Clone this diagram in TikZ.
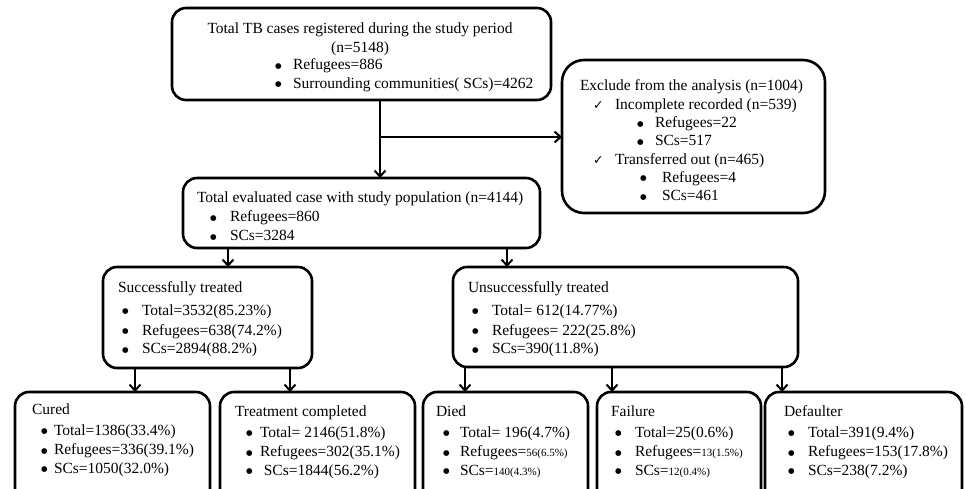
\documentclass[tikz,border=0pt]{standalone}
\usepackage{fontspec}
\setmainfont{Liberation Serif}
\newfontfamily\dejavu{DejaVu Sans}
\usetikzlibrary{arrows.meta}
\newcommand\bul[2]{\hspace*{#1}\makebox[#2][l]{\raisebox{1.5pt}{\dejavu\fontsize{7.5}{8}\selectfont ●}}}
\newcommand\chk[2]{\hspace*{#1}\makebox[#2][l]{\dejavu\fontsize{12.5}{12}\selectfont ✓}}
\newcommand\sm[1]{{\fontsize{11}{12}\selectfont #1}}
\begin{document}
\begin{tikzpicture}[x=1pt,y=-1pt,
  box/.style={draw=black,line width=2.6pt,rounded corners=14pt,inner sep=0pt,outer sep=0pt},
  txt/.style={inner sep=0pt,outer sep=0pt,align=left,anchor=north west,font=\fontsize{15.5}{18.5}\selectfont},
  arr/.style={line width=2pt,-{Straight Barb[length=6pt,width=11pt,line width=2pt]}}]
\useasboundingbox (0,0) rectangle (965,488);
% boxes
\node[box,minimum width=379pt,minimum height=92pt] (top) at (361.5,54) {};
\node[box,rounded corners=22pt,minimum width=263pt,minimum height=153pt] (excl) at (693.5,136.5) {};
\node[box,minimum width=357pt,minimum height=70pt] (eval) at (361.5,213) {};
\node[box,minimum width=209pt,minimum height=101pt] (succ) at (207.5,317.5) {};
\node[box,minimum width=345pt,minimum height=100pt] (unsucc) at (625.5,317) {};
\node[box,minimum width=195pt,minimum height=118pt] (cured) at (112.5,451) {};
\node[box,minimum width=195pt,minimum height=118pt] (tc) at (317.5,451) {};
\node[box,minimum width=165pt,minimum height=118pt] (died) at (505.5,451) {};
\node[box,minimum width=164pt,minimum height=118pt] (fail) at (679,451) {};
\node[box,minimum width=197pt,minimum height=118pt] (def) at (863.5,451) {};
% texts
\node[txt,align=center,anchor=north] (tTop) at (360,23) {Total TB cases registered during the study period\\(n=5148)};
\node[txt] (tTopB) at (275,59) {\bul{0pt}{18pt}Refugees=886\\\bul{0pt}{18pt}Surrounding communities( SCs)=4262};
\node[txt,font=\fontsize{15.5}{18.3}\selectfont] (tExcl) at (580,80) {Exclude from the analysis (n=1004)\\
\chk{13pt}{22pt}Incomplete recorded (n=539)\\
\bul{57pt}{18pt}Refugees=22\\
\bul{57pt}{18pt}SCs=517\\
\chk{13pt}{22pt}Transferred out (n=465)\\
\bul{60pt}{22pt}Refugees=4\\
\bul{60pt}{22pt}SCs=461};
\node[txt,font=\fontsize{15.5}{19}\selectfont] (tEval) at (197,192) {Total evaluated case with study population (n=4144)\\
\bul{13pt}{20pt}Refugees=860\\
\bul{13pt}{20pt}SCs=3284};
\node[txt] (tSucc) at (118,282) {Successfully treated\\[4pt]
\bul{4pt}{20pt}Total=3532(85.23\%)\\[1.5pt]
\bul{4pt}{20pt}Refugees=638(74.2\%)\\
\bul{4pt}{20pt}SCs=2894(88.2\%)};
\node[txt] (tUns) at (468,282) {Unsuccessfully treated\\[4pt]
\bul{4pt}{20pt}Total= 612(14.77\%)\\[1.5pt]
\bul{4pt}{20pt}Refugees= 222(25.8\%)\\
\bul{4pt}{20pt}SCs=390(11.8\%)};
\node[txt] (tCured) at (32,404) {Cured\\[2pt]
\bul{9pt}{13pt}Total=1386(33.4\%)\\[1pt]
\bul{9pt}{13pt}Refugees=336(39.1\%)\\
\bul{9pt}{13pt}SCs=1050(32.0\%)};
\node[txt] (tTc) at (235,406) {Treatment completed\\[2pt]
\bul{11pt}{14pt}Total= 2146(51.8\%)\\[1pt]
\bul{11pt}{14pt}Refugees=302(35.1\%)\\
\bul{11pt}{14pt} SCs=1844(56.2\%)};
\node[txt] (tDied) at (436,406) {Died\\[2pt]
\bul{7pt}{17pt}Total= 196(4.7\%)\\[1pt]
\bul{7pt}{17pt}Refugees=\sm{56(6.5\%)}\\
\bul{7pt}{17pt}SCs=\sm{140(4.3\%)}};
\node[txt] (tFail) at (611,406) {Failure\\[2pt]
\bul{4pt}{20pt}Total=25(0.6\%)\\[1pt]
\bul{4pt}{20pt}Refugees=\sm{13(1.5\%)}\\
\bul{4pt}{20pt}SCs=\sm{12(0.4\%)}};
\node[txt] (tDef) at (784,406) {Defaulter\\[2pt]
\bul{4pt}{20pt}Total=391(9.4\%)\\[1pt]
\bul{4pt}{20pt}Refugees=153(17.8\%)\\
\bul{4pt}{20pt}SCs=238(7.2\%)};
% connector positions
\coordinate (xA) at (380,0);
\coordinate (br) at (380,137);
\coordinate (xS) at (228,0);
\coordinate (xU) at (507,0);
\coordinate (xC) at (135,0);
\coordinate (xT) at (290,0);
\coordinate (xD) at (465,0);
\coordinate (xF) at (612,0);
\coordinate (xG) at (782,0);
% connectors
\draw[arr] (top.south -| xA) -- (eval.north -| xA);
\draw[arr] (br) -- (br -| excl.west);
\draw[arr] (eval.south -| xS) -- (succ.north -| xS);
\draw[arr] (eval.south -| xU) -- (unsucc.north -| xU);
\draw[arr] (succ.south -| xC) -- (cured.north -| xC);
\draw[arr] (succ.south -| xT) -- (tc.north -| xT);
\draw[arr] (unsucc.south -| xD) -- (died.north -| xD);
\draw[arr] (unsucc.south -| xF) -- (fail.north -| xF);
\draw[arr] (unsucc.south -| xG) -- (def.north -| xG);
\end{tikzpicture}
\end{document}
